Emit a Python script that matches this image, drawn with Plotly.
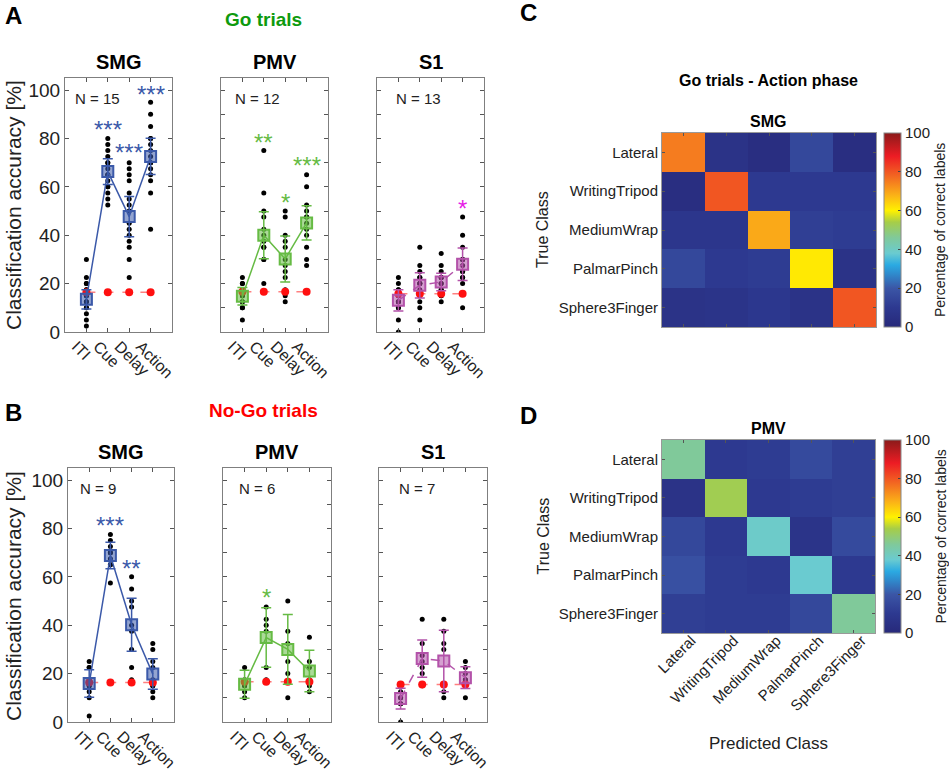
import plotly.graph_objects as go

# ---------------- data ----------------
phases = ["ITI", "Cue", "Delay", "Action"]

# Go trials (panel A): individual accuracies per phase
go_smg = {
    "ITI": [30, 22.5, 20, 17.5, 15, 12.5, 10, 7.5, 5, 2.5, 20, 15, 12.5, 17.5, 10],
    "Cue": [80, 77.5, 75, 72.5, 70, 67.5, 65, 62.5, 60, 57.5, 55, 52.5, 70, 65, 60],
    "Delay": [70, 67.5, 65, 62.5, 57.5, 55, 52.5, 50, 45, 42.5, 37.5, 35, 30, 22.5, 40],
    "Action": [95, 90, 85, 80, 77.5, 75, 72.5, 70, 70, 67.5, 65, 62.5, 57.5, 42.5, 80],
}
go_pmv = {
    "ITI": [22.5, 20, 17.5, 15, 15, 12.5, 12.5, 10, 10, 17.5, 5, 20],
    "Cue": [75, 57.5, 50, 47.5, 42.5, 40, 37.5, 35, 30, 30, 20, 35],
    "Delay": [50, 47.5, 37.5, 35, 30, 27.5, 25, 22.5, 17.5, 15, 12.5, 40],
    "Action": [65, 60, 52.5, 50, 47.5, 47.5, 45, 42.5, 40, 35, 27.5, 30],
}
go_s1 = {
    "ITI": [22.5, 20, 17.5, 15, 12.5, 12.5, 10, 10, 5, 0, 15, 17.5, 12.5],
    "Cue": [35, 27.5, 25, 22.5, 20, 20, 17.5, 15, 12.5, 10, 5, 20, 22.5],
    "Delay": [32.5, 27.5, 25, 22.5, 22.5, 20, 20, 17.5, 17.5, 15, 15, 12.5, 22.5],
    "Action": [47.5, 40, 35, 30, 30, 27.5, 25, 25, 22.5, 22.5, 20, 10, 30],
}
# No-Go trials (panel B)
nogo_smg = {
    "ITI": [25, 22.5, 22.5, 17.5, 15, 15, 12.5, 10, 2.5],
    "Cue": [77.5, 75, 72.5, 70, 70, 67.5, 65, 65, 57.5],
    "Delay": [60, 55, 50, 47.5, 40, 37.5, 30, 22.5, 17.5],
    "Action": [32.5, 30, 25, 22.5, 17.5, 15, 15, 12.5, 10],
}
nogo_pmv = {
    "ITI": [22.5, 17.5, 15, 12.5, 10, 15],
    "Cue": [47.5, 42.5, 40, 37.5, 22.5, 17.5],
    "Delay": [50, 37.5, 32.5, 25, 20, 10],
    "Action": [35, 25, 22.5, 17.5, 15, 12.5],
}
nogo_s1 = {
    "ITI": [15, 12.5, 10, 10, 7.5, 7.5, 0],
    "Cue": [42.5, 32.5, 27.5, 25, 22.5, 20, 15],
    "Delay": [42.5, 37.5, 32.5, 30, 15, 12.5, 10],
    "Action": [25, 22.5, 20, 17.5, 15, 17.5, 10],
}

# means and 95% CI half widths
go_smg_mean = [13.5, 66.3, 47.7, 72.6];   go_smg_ci = [4.0, 5.3, 8.3, 7.5]
go_pmv_mean = [14.8, 40.0, 30.2, 45.1];   go_pmv_ci = [3.6, 9.7, 9.5, 7.1]
go_s1_mean = [13.1, 19.3, 20.7, 28.0];    go_s1_ci = [4.4, 5.2, 3.6, 6.7]
nogo_smg_mean = [15.9, 68.8, 40.2, 19.8]; nogo_smg_ci = [5.7, 5.5, 11.0, 6.3]
nogo_pmv_mean = [15.6, 34.9, 30.0, 21.1]; nogo_pmv_ci = [5.8, 12.3, 14.4, 8.6]
nogo_s1_mean = [9.7, 26.2, 25.2, 18.3];   nogo_s1_ci = [4.3, 7.7, 12.7, 4.5]

# chance level (shuffled labels)
go_smg_chance = [16.4, 16.4, 16.4, 16.4]
go_pmv_chance = [16.6, 16.6, 16.6, 16.6]
go_s1_chance = [15.8, 15.8, 15.8, 15.8]
nogo_smg_chance = [16.3, 16.3, 16.3, 16.3]
nogo_pmv_chance = [16.6, 16.6, 16.6, 16.6]
nogo_s1_chance = [15.5, 15.5, 15.5, 15.5]

# significance stars and their heights
go_smg_sig = ["", "***", "***", "***"];   go_smg_sig_y = [None, 86, 76.5, 100.7]
go_pmv_sig = ["", "**", "*", "***"];      go_pmv_sig_y = [None, 81, 56, 71.3]
go_s1_sig = ["", "", "", "*"];            go_s1_sig_y = [None, None, None, 53.5]
nogo_smg_sig = ["", "***", "**", ""];     nogo_smg_sig_y = [None, 83.8, 66, None]
nogo_pmv_sig = ["", "*", "", ""];         nogo_pmv_sig_y = [None, 53.8, None, None]
nogo_s1_sig = ["", "", "", ""];           nogo_s1_sig_y = [None, None, None, None]

n_go = [15, 12, 13]
n_nogo = [9, 6, 7]
areas = ["SMG", "PMV", "S1"]

# confusion matrices (% of correct labels)
grasps = ["Lateral", "WritingTripod", "MediumWrap", "PalmarPinch", "Sphere3Finger"]
conf_smg = [
    [75, 6, 3, 15, 3],
    [3, 80, 10, 10, 10],
    [8, 8, 69, 12, 11],
    [15, 10, 11, 61, 6],
    [6, 7, 9, 6, 80],
]
conf_pmv = [
    [46, 10, 11, 16, 12],
    [6, 53, 10, 11, 12],
    [15, 10, 39, 7, 16],
    [18, 11, 10, 38, 10],
    [12, 11, 11, 15, 46],
]

# ---------------- styling ----------------
FONT = "Liberation Sans, Arial, sans-serif"
W, H = 949, 775
def px(x): return x / W
def py(y): return 1 - y / H

area_colors = {"SMG": "#3B59A9", "PMV": "#66BB44", "S1": "#B352A9"}
area_fill = {"SMG": "rgba(59,89,169,0.55)", "PMV": "rgba(102,187,68,0.55)", "S1": "rgba(179,82,169,0.55)"}
star_colors = {"SMG": "#3B59A9", "PMV": "#66BB44", "S1": "#E61EE6"}
area_dash = {"SMG": "solid", "PMV": "solid", "S1": "dash"}

jet = [
    [0.00, "#27297A"], [0.10, "#2D3990"], [0.20, "#3B56A6"], [0.28, "#2E8FD0"],
    [0.32, "#2BAAE2"], [0.38, "#6ACBD0"], [0.46, "#80C99A"], [0.54, "#A6CD48"],
    [0.60, "#FFF100"], [0.68, "#FBB117"], [0.78, "#F26522"], [0.88, "#ED1C24"],
    [1.00, "#8B1A1A"],
]

fig = go.Figure()

panels = [
    (go_smg, go_smg_mean, go_smg_ci, go_smg_chance, go_smg_sig, go_smg_sig_y, "SMG", n_go[0], (65, 172), (78, 332)),
    (go_pmv, go_pmv_mean, go_pmv_ci, go_pmv_chance, go_pmv_sig, go_pmv_sig_y, "PMV", n_go[1], (221, 328), (78, 332)),
    (go_s1, go_s1_mean, go_s1_ci, go_s1_chance, go_s1_sig, go_s1_sig_y, "S1", n_go[2], (377, 484), (78, 332)),
    (nogo_smg, nogo_smg_mean, nogo_smg_ci, nogo_smg_chance, nogo_smg_sig, nogo_smg_sig_y, "SMG", n_nogo[0], (68, 174), (468, 722)),
    (nogo_pmv, nogo_pmv_mean, nogo_pmv_ci, nogo_pmv_chance, nogo_pmv_sig, nogo_pmv_sig_y, "PMV", n_nogo[1], (223, 331), (468, 722)),
    (nogo_s1, nogo_s1_mean, nogo_s1_ci, nogo_s1_chance, nogo_s1_sig, nogo_s1_sig_y, "S1", n_nogo[2], (379, 487), (468, 722)),
]
n_text_left = [73, 233, 394, 78, 237, 397]

annotations = []
layout_axes = {}
for i, (d, mean, ci, chance, sig, sig_y, area, n, xd, yd) in enumerate(panels, start=1):
    xa, ya = f"x{i}", f"y{i}"
    col = area_colors[area]
    xs, ys = [], []
    for ph in phases:
        xs += [ph] * len(d[ph])
        ys += d[ph]
    fig.add_trace(go.Scatter(x=xs, y=ys, mode="markers", xaxis=xa, yaxis=ya,
                             marker=dict(color="black", size=5), showlegend=False, hoverinfo="skip"))
    fig.add_trace(go.Scatter(x=phases, y=chance, mode="lines+markers", xaxis=xa, yaxis=ya,
                             line=dict(color="#FF8080", width=1.5, dash="dash"),
                             marker=dict(color="#FF1010", size=8, symbol="circle"),
                             showlegend=False))
    fig.add_trace(go.Scatter(x=phases, y=mean, mode="lines+markers", xaxis=xa, yaxis=ya,
                             line=dict(color=col, width=1.5, dash=area_dash[area]),
                             marker=dict(symbol="square", size=11, color=area_fill[area],
                                         line=dict(color=col, width=2)),
                             error_y=dict(type="data", array=ci, color=col, thickness=1.5, width=5),
                             showlegend=False))
    is_smg = area == "SMG"
    layout_axes[f"xaxis{i}"] = dict(
        domain=[px(xd[0]), px(xd[1])], anchor=ya, type="category", automargin=False,
        categoryorder="array", categoryarray=phases, range=[-1, 4],
        tickangle=45, ticklabelshift=-10, ticklabelstandoff=-2, ticks="inside", ticklen=4, tickcolor="#555",
        showline=True, linecolor="#7F7F7F", linewidth=1, mirror="ticks",
        showgrid=False, zeroline=False, tickfont=dict(size=16, color="#222", family=FONT))
    layout_axes[f"yaxis{i}"] = dict(
        domain=[py(yd[1]), py(yd[0])], anchor=xa, range=[0, 105], automargin=False,
        dtick=20 if is_smg else 10, tick0=0, showticklabels=is_smg,
        ticks="inside", ticklen=4, tickcolor="#555",
        showline=True, linecolor="#7F7F7F", linewidth=1, mirror="ticks",
        showgrid=False, zeroline=False, tickfont=dict(size=19, color="#222", family=FONT))
    annotations.append(dict(text=f"<b>{area}</b>", xref="paper", yref="paper",
                            x=px((xd[0] + xd[1]) / 2), y=py(yd[0] - 16), xanchor="center", yanchor="middle",
                            showarrow=False, font=dict(size=20, color="black", family=FONT)))
    annotations.append(dict(text=f"N = {n}", xref="paper", yref="paper",
                            x=px(n_text_left[i - 1]), y=py(yd[0] + 20), xanchor="left", yanchor="middle",
                            showarrow=False, font=dict(size=15, color="#222", family=FONT)))
    for ph, s, sy in zip(phases, sig, sig_y):
        if s:
            annotations.append(dict(text=s, xref=xa, yref=ya, x=ph, y=sy, xanchor="center", yanchor="middle",
                                    yshift=-6, showarrow=False,
                                    font=dict(size=24, color=star_colors[area], family=FONT)))

hm = [
    (conf_smg, "SMG", (662, 876), (133, 327), False),
    (conf_pmv, "PMV", (662, 875), (440, 633), True),
]
for j, (z, area, xd, yd, show_x) in enumerate(hm, start=7):
    xa, ya = f"x{j}", f"y{j}"
    fig.add_trace(go.Heatmap(
        z=z, x=grasps, y=grasps, xaxis=xa, yaxis=ya, zmin=0, zmax=100, colorscale=jet,
        showscale=True,
        colorbar=dict(x=px(884), xanchor="left", y=py(yd[0]), yanchor="top",
                      len=(yd[1] - yd[0]) / H, lenmode="fraction", thickness=17, xpad=0, ypad=0,
                      tickvals=[0, 20, 40, 60, 80, 100], ticks="inside", ticklen=3,
                      outlinewidth=1, outlinecolor="#888",
                      tickfont=dict(size=15, color="#222", family=FONT)),
    ))
    layout_axes[f"xaxis{j}"] = dict(
        domain=[px(xd[0]), px(xd[1])], anchor=ya, type="category", automargin=False,
        showticklabels=show_x, tickangle=-45, ticklabelshift=8, ticklabelstandoff=-8,
        ticks="inside", ticklen=3, tickcolor="#555",
        showline=True, linecolor="#999", mirror="ticks", showgrid=False, zeroline=False,
        tickfont=dict(size=15, color="#222", family=FONT))
    layout_axes[f"yaxis{j}"] = dict(
        domain=[py(yd[1]), py(yd[0])], anchor=xa, type="category", autorange="reversed",
        automargin=False, ticks="inside", ticklen=3, tickcolor="#555",
        showline=True, linecolor="#999", mirror="ticks", showgrid=False, zeroline=False,
        tickfont=dict(size=15, color="#222", family=FONT))
    annotations.append(dict(text=f"<b>{area}</b>", xref="paper", yref="paper",
                            x=px(768), y=py(yd[0] - 12), xanchor="center", yanchor="middle",
                            showarrow=False, font=dict(size=16, color="black", family=FONT)))
    annotations.append(dict(text="True Class", xref="paper", yref="paper", textangle=-90,
                            x=px(543), y=py((yd[0] + yd[1]) / 2), xanchor="center", yanchor="middle",
                            showarrow=False, font=dict(size=16, color="#222", family=FONT)))
    annotations.append(dict(text="Percentage of correct labels", xref="paper", yref="paper", textangle=-90,
                            x=px(940), y=py((yd[0] + yd[1]) / 2), xanchor="center", yanchor="middle",
                            showarrow=False, font=dict(size=14, color="#222", family=FONT)))

def txt(t, x, y, size, color="black", angle=0):
    annotations.append(dict(text=t, xref="paper", yref="paper", x=px(x), y=py(y),
                            xanchor="center", yanchor="middle", showarrow=False, textangle=angle,
                            font=dict(size=size, color=color, family=FONT)))

txt("<b>A</b>", 13, 15, 24)
txt("<b>B</b>", 13, 412, 24)
txt("<b>C</b>", 528, 13, 24)
txt("<b>D</b>", 528, 415, 24)
txt("<b>Go trials</b>", 263, 20, 19, "#0E9A0E")
txt("<b>No-Go trials</b>", 263, 410, 19, "#FF0000")
txt("<b>Go trials - Action phase</b>", 768, 81, 16)
txt("Predicted Class", 768, 743, 17, "#222")
txt("Classification accuracy [%]", 13, 205, 21, "#222", -90)
txt("Classification accuracy [%]", 13, 596, 21, "#222", -90)

fig.update_layout(template="none", width=W, height=H, margin=dict(l=0, r=0, t=0, b=0, autoexpand=False),
                  paper_bgcolor="white", plot_bgcolor="white",
                  font=dict(family=FONT), annotations=annotations, showlegend=False, **layout_axes)

fig.write_html("out.html", config={"displayModeBar": False},
               post_script="document.body.style.margin='0';document.body.style.overflow='hidden';")
